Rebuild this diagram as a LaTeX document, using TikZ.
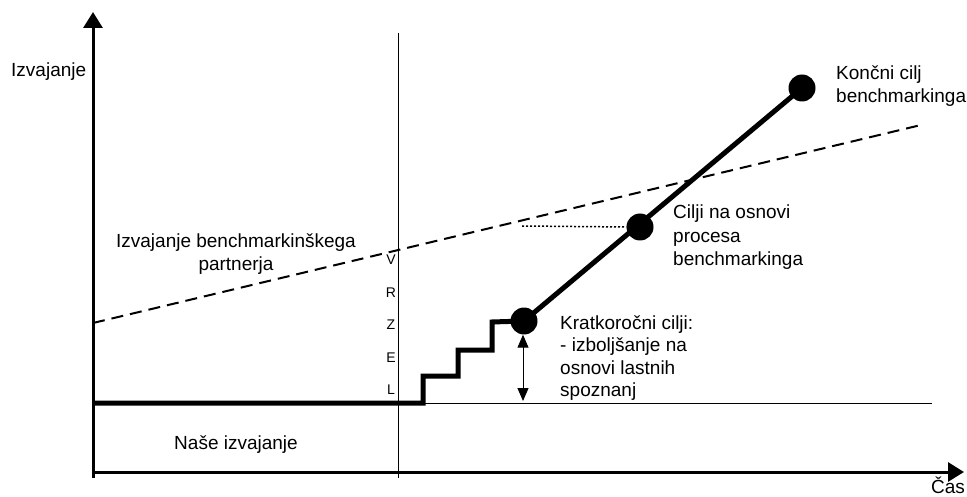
\documentclass[tikz,border=0pt]{standalone}
\usepackage{fontspec}
\setmainfont{Liberation Sans}
\usetikzlibrary{arrows.meta}
\begin{document}
\begin{tikzpicture}[x=1pt,y=-1pt,
  lbl/.style={font=\fontsize{19}{23.5}\selectfont, inner sep=0pt},
  gapletter/.style={font=\fontsize{14}{16}\selectfont, inner sep=0pt},
  goal/.style={circle, fill=black, minimum size=27pt, inner sep=0pt},
  heavy/.style={line width=5pt, line join=miter},
  axis/.style={line width=3pt, -{Triangle[length=16pt,width=19pt]}},
  hair/.style={line width=1pt},
]
\useasboundingbox (0,0) rectangle (967,497);

% axes
\coordinate (O) at (93,472);
\coordinate (ybot) at (93,478);
\coordinate (ytop) at (93,12);
\coordinate (xend) at (964,472);
\draw[axis] (ybot) -- (ytop);
\draw[axis] (O) -- (xend);

% reference lines: start of benchmarking and current level
\coordinate (vtop) at (398,33);
\coordinate (vbot) at (398,478);
\draw[hair] (vtop) -- (vbot);
\coordinate (lvlL) at (93,403);
\coordinate (lvlR) at (932,403);

% partner performance
\coordinate (pL) at (93,323);
\coordinate (pR) at (921,125);
\draw[line width=2pt, dash pattern=on 12pt off 7pt] (pL) -- (pR);

% goals
\node[goal] (g1) at (524,321) {};
\node[goal] (g2) at (640,227) {};
\node[goal] (g3) at (802,88) {};

% link from partner line to the process goal
\coordinate (dotL) at (522,226);
\draw[line width=1.5pt, dash pattern=on 2pt off 2pt] (dotL) -- (g2.west);

% gap to short-term goal
\coordinate (gapbase) at (523,401);
\draw[hair, {Triangle[length=13pt,width=11pt]}-{Triangle[length=13pt,width=11pt]}] ([xshift=-1pt]g1.south) -- (gapbase);

% labels
\node[lbl, anchor=base west] (ylab) at (11,77) {Izvajanje};
\node[lbl, anchor=base west] (xlab) at (931,493) {Čas};
\node[lbl, align=center, anchor=north] (partner) at (236,233) {Izvajanje benchmarkinškega\\partnerja};
\node[lbl, anchor=base] (ours) at (236,449) {Naše izvajanje};
\begin{scope}
  \clip (540,290) rectangle (720,402);
  \node[lbl, font=\fontsize{19}{22.5}\selectfont, align=left, anchor=north west] (short) at (560,315) {Kratkoročni cilji:\\- izboljšanje na\\osnovi lastnih\\spoznanj};
\end{scope}
\node[lbl, align=left, anchor=north west] (proc) at (673,205) {Cilji na osnovi\\procesa\\benchmarkinga};
\node[lbl, align=left, anchor=north west] (final) at (836,65) {Končni cilj\\benchmarkinga};

% current level line, drawn over the clipped label
\draw[hair] (lvlL) -- (lvlR);

% our performance and the steps
\draw[heavy] (lvlL) -| (423,376) -| (458,350) -| (492,322) -- (g1.center);
\draw[heavy] (g1.center) -- (g3.center);

% the word VRZEL (gap), written down the vertical line
\node[gapletter] (v) at (391,260) {V};
\node[gapletter] (r) at (391,293) {R};
\node[gapletter] (z) at (391,325) {Z};
\node[gapletter] (e) at (391,358) {E};
\node[gapletter] (l) at (391,390) {L};
\end{tikzpicture}
\end{document}
